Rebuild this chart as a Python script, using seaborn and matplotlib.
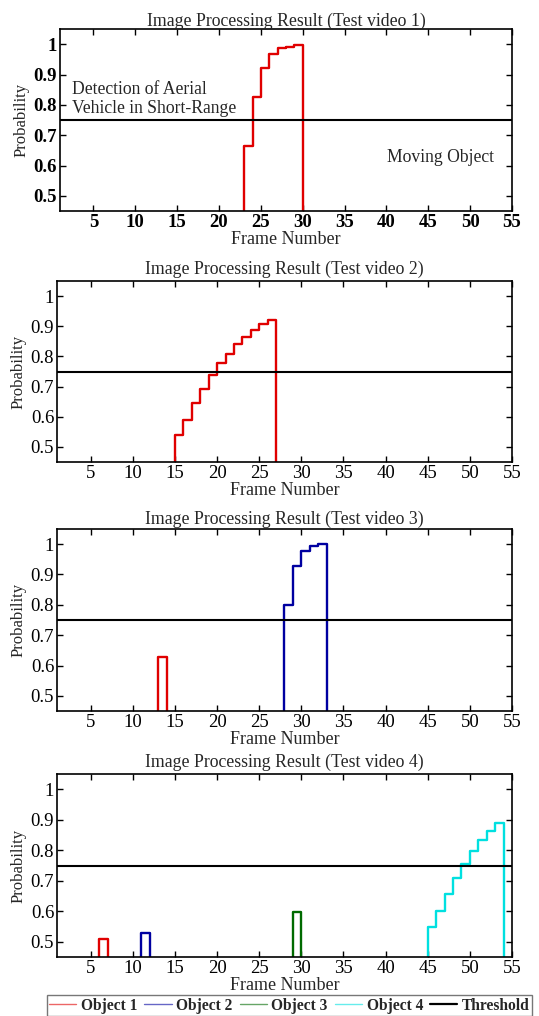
import numpy as np
import matplotlib
matplotlib.use("Agg")
import matplotlib.pyplot as plt
from matplotlib.lines import Line2D
import pandas as pd
import seaborn as sns

# ---- data ----
titles = ["Image Processing Result (Test video 1)",
          "Image Processing Result (Test video 2)",
          "Image Processing Result (Test video 3)",
          "Image Processing Result (Test video 4)"]

threshold = 0.75

# test video 1
v1_obj1_frames = [23, 24, 25, 26, 27, 28, 29]
v1_obj1_prob = [0.665, 0.827, 0.921, 0.967, 0.986, 0.992, 0.998]

# test video 2
v2_obj1_frames = [15, 16, 17, 18, 19, 20, 21, 22, 23, 24, 25, 26]
v2_obj1_prob = [0.541, 0.590, 0.645, 0.692, 0.737, 0.778, 0.808, 0.840, 0.866, 0.887, 0.907, 0.922]

# test video 3
v3_obj1_frames = [13]
v3_obj1_prob = [0.627]
v3_obj2_frames = [28, 29, 30, 31, 32]
v3_obj2_prob = [0.798, 0.929, 0.979, 0.994, 1.0]

# test video 4
v4_obj1_frames = [6]
v4_obj1_prob = [0.51]
v4_obj2_frames = [11]
v4_obj2_prob = [0.528]
v4_obj3_frames = [29]
v4_obj3_prob = [0.599]
v4_obj4_frames = [45, 46, 47, 48, 49, 50, 51, 52, 53]
v4_obj4_prob = [0.547, 0.601, 0.656, 0.709, 0.756, 0.798, 0.833, 0.863, 0.888]

x_ticks = [5, 10, 15, 20, 25, 30, 35, 40, 45, 50, 55]
y_ticks = [0.5, 0.6, 0.7, 0.8, 0.9, 1.0]
y_ticklabels = ["0.5", "0.6", "0.7", "0.8", "0.9", "1"]

legend_labels = ["Object 1", "Object 2", "Object 3", "Object 4", "Threshold"]
colors = {"Object 1": "#e00000", "Object 2": "#0000a0", "Object 3": "#006a00",
          "Object 4": "#00e0e0", "Threshold": "black"}

panels = [
    [("Object 1", v1_obj1_frames, v1_obj1_prob)],
    [("Object 1", v2_obj1_frames, v2_obj1_prob)],
    [("Object 1", v3_obj1_frames, v3_obj1_prob),
     ("Object 2", v3_obj2_frames, v3_obj2_prob)],
    [("Object 1", v4_obj1_frames, v4_obj1_prob),
     ("Object 2", v4_obj2_frames, v4_obj2_prob),
     ("Object 3", v4_obj3_frames, v4_obj3_prob),
     ("Object 4", v4_obj4_frames, v4_obj4_prob)],
]


def to_steps(frames, prob):
    # pad with zeros so the step rises from / falls to below the axis
    x = [frames[0]] + list(frames) + [frames[-1] + 1]
    y = [0.0] + list(prob) + [0.0]
    return pd.DataFrame({"Frame": x, "Probability": y})


sns.set_style("ticks")
plt.rcParams['font.family'] = ['Liberation Serif', 'DejaVu Serif']
plt.rcParams['axes.linewidth'] = 1.2

fig = plt.figure(figsize=(5.39, 10.16), dpi=100)
boxes = [(60, 29, 211), (57, 281, 462), (57, 529, 711), (57, 774, 957)]
title_pads = [2, 5, 4, 5]
W, H = 539., 1016.

for i, (left, top, bottom) in enumerate(boxes):
    ax = fig.add_axes([left / W, 1 - bottom / H, (512 - left) / W, (bottom - top) / H])
    for name, fr, pr in panels[i]:
        df = to_steps(fr, pr)
        sns.lineplot(data=df, x="Frame", y="Probability", ax=ax, color=colors[name],
                     drawstyle="steps-post", estimator=None, sort=False, lw=1.7)
    ax.axhline(threshold, color="black", lw=1.5)
    ax.set_xlim(1, 55)
    ax.set_ylim(0.45, 1.05)
    ax.set_xticks(x_ticks)
    ax.set_yticks(y_ticks)
    ax.set_yticklabels(y_ticklabels)
    ax.tick_params(direction="in", top=True, right=True, length=4, width=1,
                   labelsize=13.5, pad=2, colors="black")
    bold = "bold" if i == 0 else "normal"
    for lab in ax.get_xticklabels() + ax.get_yticklabels():
        lab.set_fontweight(bold)
    ax.set_xlabel("Frame Number", fontsize=13, labelpad=0)
    ax.set_ylabel("Probability", fontsize=12, labelpad=3)
    ax.set_title(titles[i], fontsize=12.8, pad=title_pads[i])
    for s in ax.spines.values():
        s.set_visible(True)
        s.set_color("black")
    if i == 0:
        ax.text(2.4, 0.82, "Detection of Aerial\nVehicle in Short-Range",
                fontsize=12.7, ha="left", va="center", linespacing=1.15)
        ax.text(46.4, 0.627, "Moving Object", fontsize=12.7, ha="center", va="center")

handles = [Line2D([], [], color=colors[n], lw=1.0 if n != "Threshold" else 1.6,
                  alpha=0.6 if n != "Threshold" else 1.0) for n in legend_labels]
fig.legend(handles, legend_labels, loc="lower center", bbox_to_anchor=(0.537, 0.0),
           ncol=5, frameon=True, fancybox=False, edgecolor="#555555",
           prop={"size": 11.2, "weight": "bold"}, handlelength=1.75, handletextpad=0.3,
           columnspacing=0.45, borderpad=0.15, borderaxespad=0.0)

fig.savefig("out.png", dpi=100, facecolor="white")
